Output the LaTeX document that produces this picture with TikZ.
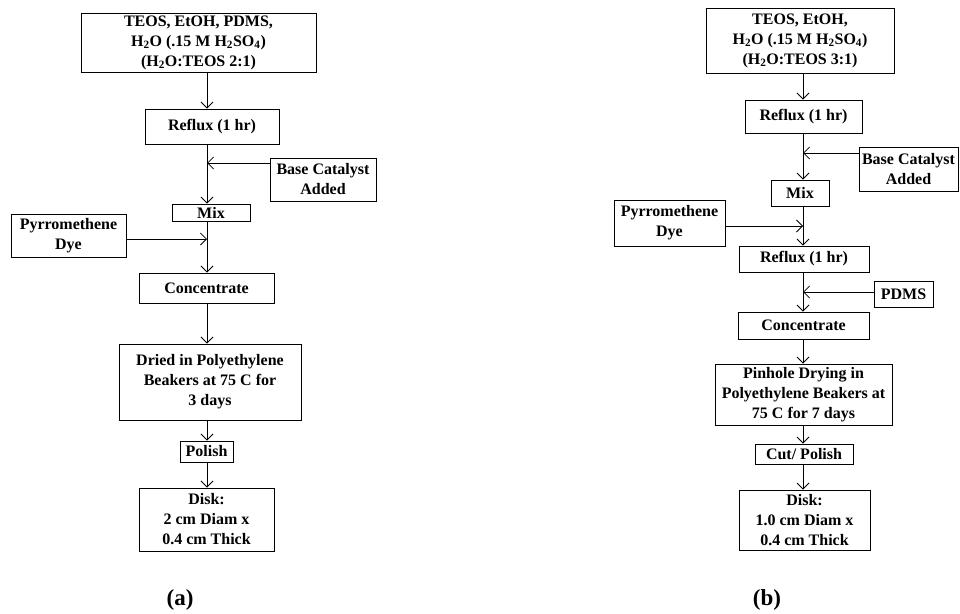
\documentclass[tikz,border=0pt]{standalone}
\usepackage{fontspec}
\setmainfont{Liberation Serif}
\usetikzlibrary{arrows.meta}
\tikzset{
  box/.style={draw, line width=0.9pt, inner sep=0pt, align=center,
    font=\fontsize{16}{20}\selectfont\bfseries},
  arr/.style={line width=0.8pt, -{Straight Barb[length=6pt,width=12pt]}},
  lab/.style={font=\fontsize{23}{26}\selectfont\bfseries}
}
\newcommand{\bx}[6]{\node[box, minimum width=#3, minimum height=#4] (#1) at (#2) {#5};}
\begin{document}
\begin{tikzpicture}[x=1pt,y=-1pt]
\useasboundingbox (0,0) rectangle (960,613);
% ---- panel (a) ----
\coordinate (LS) at (207,0);
\node[box, minimum width=235, minimum height=59] (a1) at (198.5,42.5) {TEOS, EtOH, PDMS,\\H\textsubscript{2}O (.15 M H\textsubscript{2}SO\textsubscript{4})\\(H\textsubscript{2}O:TEOS 2:1)};
\node[box, minimum width=134, minimum height=35] (a2) at (212,126.5) {Reflux (1 hr)};
\node[box, minimum width=106, minimum height=43] (a3) at (323,179.5) {Base Catalyst\\Added};
\node[box, minimum width=78, minimum height=17] (a4) at (211,212.5) {Mix};
\node[box, minimum width=115, minimum height=43] (a5) at (68.5,235.5) {Pyrromethene\\Dye};
\node[box, minimum width=135, minimum height=30] (a6) at (206.5,288) {Concentrate};
\node[box, minimum width=182, minimum height=76] (a7) at (210,382) {Dried in Polyethylene\\Beakers at 75 C for\\3 days};
\node[box, minimum width=53, minimum height=21] (a8) at (206.5,451.5) {Polish};
\node[box, minimum width=135, minimum height=63] (a9) at (206.5,519.5) {Disk:\\2 cm Diam x\\0.4 cm Thick};
\node[lab] (la) at (180,600) {(a)};
\coordinate (aj1) at (207,163);
\coordinate (aj2) at (207,239);
\draw[arr] (a1.south -| LS) -- (a2.north -| LS);
\draw[arr] (a2.south -| LS) -- (a4.north -| LS);
\draw[arr] (a3.west |- aj1) -- (aj1);
\draw[arr] (a4.south -| LS) -- (a6.north -| LS);
\draw[arr] (a5.east |- aj2) -- (aj2);
\draw[arr] (a6.south -| LS) -- (a7.north -| LS);
\draw[arr] (a7.south -| LS) -- (a8.north -| LS);
\draw[arr] (a8.south -| LS) -- (a9.north -| LS);
% ---- panel (b) ----
\coordinate (RS) at (803,0);
\node[box, minimum width=188, minimum height=65] (b1) at (800,40.5) {TEOS, EtOH,\\H\textsubscript{2}O (.15 M H\textsubscript{2}SO\textsubscript{4})\\(H\textsubscript{2}O:TEOS 3:1)};
\node[box, minimum width=117, minimum height=33] (b2) at (803.5,116.5) {Reflux (1 hr)};
\node[box, minimum width=99, minimum height=44] (b3) at (908.5,169) {Base Catalyst\\Added};
\node[box, minimum width=58, minimum height=26] (b4) at (800,193) {Mix};
\node[box, minimum width=111, minimum height=46] (b5) at (669.5,223) {Pyrromethene\\Dye};
\node[box, minimum width=130, minimum height=26] (b6) at (804,259) {Reflux (1 hr)};
\node[box, minimum width=59, minimum height=26] (b7) at (903.5,294) {PDMS};
\node[box, minimum width=131, minimum height=27] (b8) at (803.5,325.5) {Concentrate};
\node[box, minimum width=177, minimum height=61] (b9) at (803.5,394.5) {Pinhole Drying in\\Polyethylene Beakers at\\75 C for 7 days};
\node[box, minimum width=98, minimum height=20] (b10) at (804,454) {Cut/ Polish};
\node[box, minimum width=131, minimum height=60] (b11) at (804.5,520) {Disk:\\1.0 cm Diam x\\0.4 cm Thick};
\node[lab] (lb) at (767,600) {(b)};
\coordinate (bj1) at (803,153);
\coordinate (bj2) at (803,226);
\coordinate (bj3) at (803,292);
\draw[arr] (b1.south -| RS) -- (b2.north -| RS);
\draw[arr] (b2.south -| RS) -- (b4.north -| RS);
\draw[arr] (b3.west |- bj1) -- (bj1);
\draw[arr] (b4.south -| RS) -- (b6.north -| RS);
\draw[arr] (b5.east |- bj2) -- (bj2);
\draw[arr] (b6.south -| RS) -- (b8.north -| RS);
\draw[arr] (b7.west |- bj3) -- (bj3);
\draw[arr] (b8.south -| RS) -- (b9.north -| RS);
\draw[arr] (b9.south -| RS) -- (b10.north -| RS);
\draw[arr] (b10.south -| RS) -- (b11.north -| RS);
\end{tikzpicture}
\end{document}
